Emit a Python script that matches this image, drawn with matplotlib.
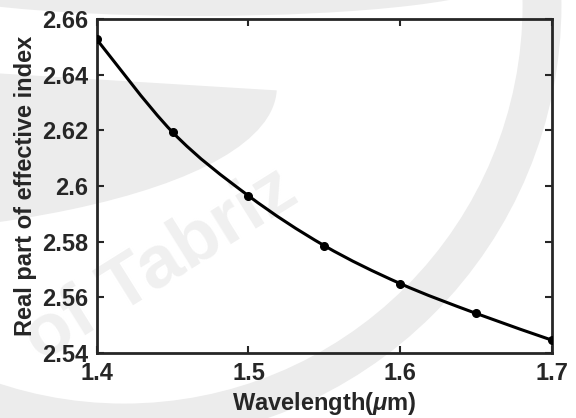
import matplotlib
matplotlib.use('Agg')
import matplotlib.pyplot as plt
from matplotlib.patches import Circle, Ellipse, PathPatch
from matplotlib.path import Path
from matplotlib.transforms import Affine2D

# effective index (real part) vs wavelength
wavelength = [1.40, 1.45, 1.50, 1.55, 1.60, 1.65, 1.70]
neff_real = [2.6526, 2.6193, 2.5965, 2.5786, 2.5650, 2.5543, 2.5447]

xticks = [1.4, 1.5, 1.6, 1.7]
xtick_labels = ['1.4', '1.5', '1.6', '1.7']
yticks = [2.54, 2.56, 2.58, 2.60, 2.62, 2.64, 2.66]
ytick_labels = ['2.54', '2.56', '2.58', '2.6', '2.62', '2.64', '2.66']

plt.rcParams['font.family'] = ['Liberation Sans', 'DejaVu Sans']
plt.rcParams['font.weight'] = 'bold'
plt.rcParams['mathtext.fontset'] = 'custom'
plt.rcParams['mathtext.it'] = 'Liberation Sans:italic'
plt.rcParams['mathtext.rm'] = 'Liberation Sans:bold'

txt = '#262626'
wm = '#ececec'

W, H = 576, 418
fig = plt.figure(figsize=(W / 100, H / 100), dpi=100)

# pixel coords measured from the top-left corner -> figure coords
px = Affine2D().scale(1 / W, -1 / H).translate(0, 1) + fig.transFigure

# faint logo watermark, kept below the axes
arc = Circle((124, 5), 418, transform=px, fill=False, edgecolor=wm,
             linewidth=28, zorder=-5)
fig.patches.append(arc)
cap = Ellipse((200, -20), 600, 72, transform=px, facecolor=wm,
              edgecolor='none', zorder=-5)
fig.patches.append(cap)
# half ellipse: flat top edge, rounded lower edge
half = Path.arc(0, 180)
swoosh_tf = Affine2D().scale(678, 186).rotate_deg(3.5).translate(-400, 49) + px
swoosh = PathPatch(half, transform=swoosh_tf, facecolor=wm, edgecolor='none', zorder=-5)
fig.patches.append(swoosh)
fig.text(0.278, 0.366, 'of Tabriz', fontsize=54, fontweight='bold', color='#f0f0f0',
         rotation=32, ha='center', va='center', zorder=-4)

ax = fig.add_axes([0.168, 0.155, 0.790, 0.800])
ax.set_facecolor('none')

# smooth curve through the samples (Catmull-Rom as cubic Bezier segments)
verts = [(wavelength[0], neff_real[0])]
codes = [Path.MOVETO]
n = len(wavelength)
for i in range(n - 1):
    x0, y0 = wavelength[max(i - 1, 0)], neff_real[max(i - 1, 0)]
    x1, y1 = wavelength[i], neff_real[i]
    x2, y2 = wavelength[i + 1], neff_real[i + 1]
    x3, y3 = wavelength[min(i + 2, n - 1)], neff_real[min(i + 2, n - 1)]
    verts += [(x1 + (x2 - x0) / 6, y1 + (y2 - y0) / 6),
              (x2 - (x3 - x1) / 6, y2 - (y3 - y1) / 6),
              (x2, y2)]
    codes += [Path.CURVE4] * 3
ax.add_patch(PathPatch(Path(verts, codes), facecolor='none', edgecolor='black',
                       linewidth=2.2, zorder=3))
ax.plot(wavelength, neff_real, linestyle='none', color='black',
        marker='o', markersize=5.5, zorder=4)

ax.set_xlim(1.4, 1.7)
ax.set_ylim(2.54, 2.66)
ax.set_xticks(xticks)
ax.set_xticklabels(xtick_labels)
ax.set_yticks(yticks)
ax.set_yticklabels(ytick_labels)

ax.tick_params(direction='in', length=5, width=1.5, top=True, right=True,
               labelsize=17, colors=txt, pad=6)
for s in ax.spines.values():
    s.set_linewidth(2)
    s.set_color(txt)

ax.set_xlabel(r'Wavelength($\mu$m)', fontsize=17, fontweight='bold', color=txt, labelpad=4)
ax.set_ylabel('Real part of effective index', fontsize=17, fontweight='bold', color=txt, labelpad=4)

fig.savefig('out.png', dpi=100, facecolor='white')
